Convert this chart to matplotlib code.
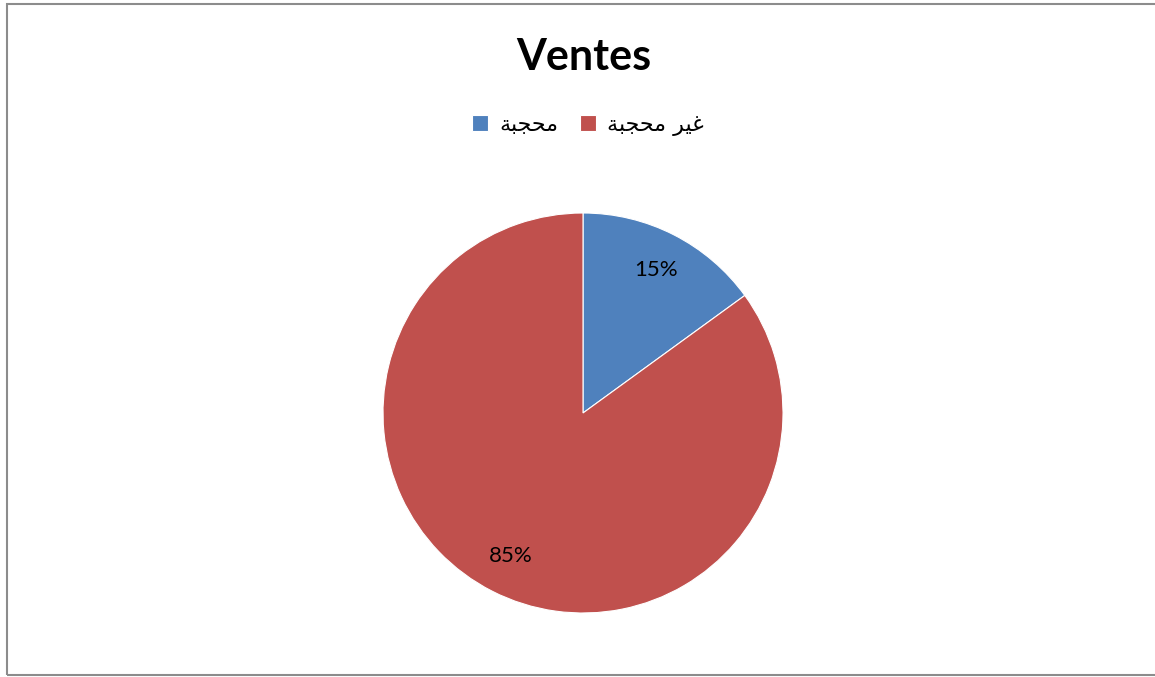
'''Ventes pie chart.'''
import matplotlib.pyplot as plt
from matplotlib.patches import Rectangle

# legend labels, shaped Arabic in visual order
labels = ['\ufe94\ufe92\ufea0\ufea4\ufee3',                                 # محجبة
          '\ufe94\ufe92\ufea0\ufea4\ufee3 \ufeae\ufef4\ufecf']              # غير محجبة
values = [15, 85]
colors = ['#4f81bd', '#c0504d']

fig = plt.figure(figsize=(11.55, 6.77), dpi=100)

# chart frame
fig.patches.append(Rectangle((7 / 1155, 2 / 677), 1.1, 671 / 677, transform=fig.transFigure,
                             fill=False, edgecolor='#8c8c8c', linewidth=1.5))

r = 200
pax = fig.add_axes([(583 - r) / 1155, 1 - (413 + r) / 677, 2 * r / 1155, 2 * r / 677])
wedges, texts, autotexts = pax.pie(values, colors=colors, startangle=90, counterclock=False,
                                   autopct='%1.0f%%', pctdistance=0.8,
                                   wedgeprops=dict(edgecolor='white', linewidth=0.8),
                                   textprops=dict(fontsize=16, family='Lato', color='black'))
pax.set_xlim(-1, 1)
pax.set_ylim(-1, 1)
pax.set_aspect('equal')

fig.text(584 / 1155, 1 - 57 / 677, 'Ventes', ha='center', va='center',
         fontsize=31, fontweight='bold', family='Lato')

fig.legend(wedges, labels, loc='center', bbox_to_anchor=(588 / 1155, 1 - 125 / 677), ncol=2,
           frameon=False, prop=dict(family='DejaVu Sans', size=16),
           handlelength=0.7, handleheight=0.7, handletextpad=0.5, columnspacing=1.0)

fig.savefig('out.png', dpi=100)
